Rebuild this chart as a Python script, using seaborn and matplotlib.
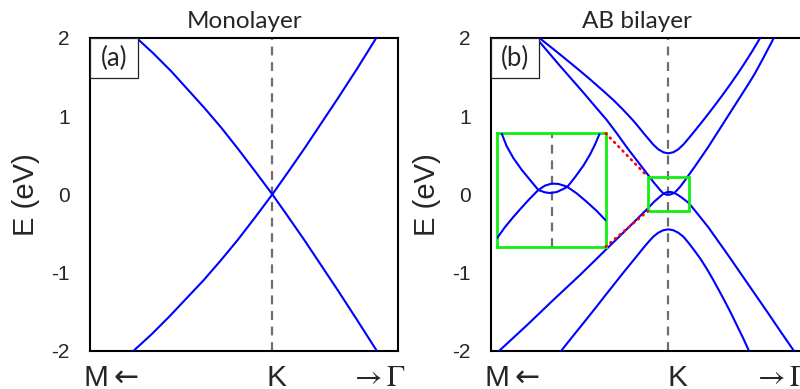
import matplotlib
matplotlib.use("Agg")
import matplotlib.pyplot as plt
import seaborn as sns
import pandas as pd
from matplotlib.patches import Rectangle, ConnectionPatch
from matplotlib.transforms import blended_transform_factory, ScaledTranslation

# ---------------- data (k: arbitrary units, K point at 0; E in eV) ----------------
# (a) Monolayer
mono_a_k = [-1.36, -1.19, -1.01, -0.84, -0.677, -0.51, -0.343, -0.17, 0.0, 0.16, 0.323, 0.49, 0.657, 0.85, 1.04]
mono_a_E = [2.0, 1.80, 1.57, 1.33, 1.10, 0.85, 0.58, 0.29, 0.0, -0.29, -0.59, -0.91, -1.23, -1.61, -1.99]
mono_b_k = [-1.39, -1.21, -1.03, -0.86, -0.69, -0.52, -0.345, -0.17, 0.0, 0.16, 0.323, 0.49, 0.657, 0.85, 1.04]
mono_b_E = [-2.0, -1.79, -1.56, -1.33, -1.10, -0.85, -0.58, -0.29, 0.0, 0.29, 0.59, 0.91, 1.23, 1.61, 2.0]

# (b) AB bilayer
bi1_k = [-1.073, -0.96, -0.85, -0.74, -0.63, -0.54, -0.45, -0.37, -0.30, -0.25, -0.20, -0.15, -0.10, -0.05, 0.0,
         0.05, 0.10, 0.15, 0.20, 0.26, 0.317, 0.38, 0.437, 0.50, 0.557, 0.62, 0.687, 0.75, 0.807]
bi1_E = [-2.0, -1.82, -1.645, -1.47, -1.29, -1.145, -1.0, -0.875, -0.765, -0.685, -0.61, -0.54, -0.49, -0.458, -0.447,
         -0.458, -0.49, -0.54, -0.615, -0.715, -0.815, -0.94, -1.065, -1.21, -1.345, -1.50, -1.675, -1.84, -2.0]

bi2_k = [-1.693, -1.413, -1.143, -0.883, -0.643, -0.423, -0.2051, -0.1445, -0.0814, -0.0498,
         -0.0246, 0.0006, 0.0259, 0.0599, 0.0953, 0.1331, 0.2051, 0.30, 0.40, 0.50, 0.60, 0.70, 0.80, 0.90, 1.00, 1.13, 1.257]
bi2_E = [-2.0, -1.67, -1.34, -1.03, -0.73, -0.455, -0.179, -0.098, -0.027, 0.006,
         0.023, 0.031, 0.030, 0.018, -0.007, -0.040, -0.111, -0.26, -0.42, -0.60, -0.78, -0.965, -1.15, -1.335, -1.52, -1.765, -2.0]

bi3_k = [-1.323, -1.203, -1.083, -0.963, -0.843, -0.73, -0.616, -0.51, -0.403, -0.30, -0.1887, -0.1445, -0.0814,
         -0.0498, -0.0246, -0.0057, 0.0196, 0.0448, 0.0599, 0.0890, 0.1205, 0.1647, 0.1811, 0.26, 0.397, 0.497,
         0.597, 0.697, 0.797, 0.867, 0.937, 1.057]
bi3_E = [2.0, 1.82, 1.64, 1.465, 1.29, 1.12, 0.95, 0.77, 0.58, 0.41, 0.225, 0.15, 0.055,
         0.012, -0.002, -0.006, -0.002, 0.010, 0.018, 0.056, 0.100, 0.175, 0.205, 0.345, 0.60, 0.80,
         1.0, 1.20, 1.40, 1.545, 1.71, 2.0]

bi4_k = [-1.293, -1.15, -1.043, -0.90, -0.793, -0.65, -0.55, -0.463, -0.40, -0.353, -0.30, -0.25, -0.20, -0.15, -0.10,
         -0.05, 0.0, 0.05, 0.10, 0.15, 0.20, 0.25, 0.317, 0.39, 0.467, 0.54, 0.617, 0.69, 0.767, 0.84, 0.92]
bi4_E = [2.0, 1.855, 1.745, 1.595, 1.48, 1.32, 1.205, 1.095, 1.01, 0.945, 0.865, 0.785, 0.71, 0.635, 0.575,
         0.537, 0.524, 0.537, 0.575, 0.635, 0.71, 0.787, 0.893, 1.011, 1.139, 1.264, 1.40, 1.534, 1.682, 1.829, 2.0]

# inset (zoom around K)
ins_c_k = [-0.1887, -0.1697, -0.1445, -0.1129, -0.0814, -0.0498, -0.0246, -0.0057, 0.0196, 0.0448,
           0.0599, 0.0890, 0.1205, 0.1457, 0.1647, 0.1811]
ins_c_E = [0.225, 0.1755, 0.1298, 0.0842, 0.0451, 0.0060, -0.0031, -0.0057, -0.0018, 0.0099,
           0.018, 0.0555, 0.0999, 0.1429, 0.1820, 0.2211]
ins_v_k = [-0.2051, -0.1760, -0.1445, -0.1129, -0.0814, -0.0498, -0.0246, 0.0006, 0.0259, 0.0511,
           0.0599, 0.0953, 0.1331, 0.1710, 0.2051]
ins_v_E = [-0.1791, -0.1374, -0.0983, -0.0618, -0.0266, 0.0060, 0.0229, 0.0308, 0.0295, 0.0216,
           0.018, -0.0070, -0.0396, -0.0748, -0.1113]

ins_xlim = (-0.205, 0.205)
ins_ylim = (-0.213, 0.225)

mono_xlim = (-1.826, 1.257)
bi_xlim = (-1.776, 1.334)
ylim = (-2, 2)
yticks = [2, 1, 0, -1, -2]
yticklabels = ["2", "1", "0", "-1", "-2"]
kpath_labels = [r"M$\leftarrow$", "K", r"$\rightarrow\Gamma$"]
titles = ["Monolayer", "AB bilayer"]
panel_tags = ["(a)", "(b)"]


def frame(ks, Es):
    rows = []
    for i, (k, E) in enumerate(zip(ks, Es)):
        for kk, ee in zip(k, E):
            rows.append({"k": kk, "E": ee, "band": i})
    return pd.DataFrame(rows)


df_mono = frame([mono_a_k, mono_b_k], [mono_a_E, mono_b_E])
df_bi = frame([bi1_k, bi2_k, bi3_k, bi4_k], [bi1_E, bi2_E, bi3_E, bi4_E])
df_ins = frame([ins_c_k, ins_v_k], [ins_c_E, ins_v_E])

sns.set_style("white")
plt.rcParams["font.family"] = ["Liberation Sans", "DejaVu Sans"]

BLUE = "#0000ff"
GRAY = "#6e6e6e"
GREEN = "#11ee11"

fig = plt.figure(figsize=(8, 3.89), dpi=100)
axL = fig.add_axes([89.7 / 800, 38 / 389, 308.4 / 800, 313.3 / 389])
axR = fig.add_axes([490.7 / 800, 38 / 389, 311 / 800, 313.3 / 389])

panels = [(axL, df_mono, mono_xlim, 0.503, 4, 17.5), (axR, df_bi, bi_xlim, 0.469, 9, 17.5)]
for idx, (ax, df, xl, tx, kdx, tfs) in enumerate(panels):
    ax.axvline(0, color=GRAY, lw=1.6, ls=(0, (4, 3)), zorder=1)
    sns.lineplot(data=df, x="k", y="E", units="band", estimator=None, sort=False,
                 color=BLUE, linewidth=1.5, ax=ax, legend=False, zorder=3)
    ax.set_xlim(*xl)
    ax.set_ylim(*ylim)
    ax.set_yticks(yticks)
    ax.set_yticklabels(yticklabels)
    ax.set_xticks([])
    ax.set_xlabel("")
    ax.set_ylabel("E (eV)", fontsize=21)
    ax.yaxis.set_label_coords(-49.5 / (ax.get_position().width * 800), 0.5)
    ax.tick_params(axis="y", direction="out", length=7.5, width=1.5, pad=7, labelsize=15, color="black")
    for sp in ax.spines.values():
        sp.set_visible(True)
        sp.set_color("black")
        sp.set_linewidth(1.5)
    ax.set_title(titles[idx], fontsize=tfs, family=["Lato", "DejaVu Sans"], pad=6.8, x=tx)

    # panel tag box
    wpx = ax.get_position().width * 800
    hpx = ax.get_position().height * 389
    bw, bh = 48.5 / wpx, 40 / hpx
    ax.add_patch(Rectangle((0, 1 - bh), bw, bh, transform=ax.transAxes, facecolor="white",
                           edgecolor="#222222", lw=0.9, zorder=6))
    ax.text(bw / 2, 1 - bh / 2 - 0.004, panel_tags[idx], transform=ax.transAxes, ha="center", va="center",
            fontsize=18.5, family=["Lato", "DejaVu Sans"], zorder=7)

    # k-path labels
    base = blended_transform_factory(ax.transData, ax.transAxes)
    dy = -35.0 / 100
    ax.text(xl[0], 0, kpath_labels[0], fontsize=21.5, ha="left", va="baseline",
            math_fontfamily="dejavusans",
            transform=base + ScaledTranslation(-6.5 / 100, dy, fig.dpi_scale_trans))
    ax.text(0, 0, kpath_labels[1], fontsize=21.5, ha="center", va="baseline",
            transform=base + ScaledTranslation(kdx / 100, dy, fig.dpi_scale_trans))
    ax.text(xl[1], 0, kpath_labels[2], fontsize=21.5, ha="right", va="baseline",
            math_fontfamily="stix",
            transform=base + ScaledTranslation(7 / 100, dy, fig.dpi_scale_trans))

# inset in panel (b)
ins = axR.inset_axes([6.6 / 311, 104.3 / 313.3, 108.4 / 311, 113.4 / 313.3])
ins.set_facecolor("white")
ins.axvline(0, color=GRAY, lw=1.6, ls=(0, (4, 3)), zorder=1)
sns.lineplot(data=df_ins, x="k", y="E", units="band", estimator=None, sort=False,
             color=BLUE, linewidth=1.5, ax=ins, legend=False, zorder=3)
ins.set_xlim(*ins_xlim)
ins.set_ylim(*ins_ylim)
ins.set_xticks([])
ins.set_yticks([])
ins.set_xlabel("")
ins.set_ylabel("")
for sp in ins.spines.values():
    sp.set_visible(True)
    sp.set_color(GREEN)
    sp.set_linewidth(2)

# zoom rectangle in main panel
axR.add_patch(Rectangle((ins_xlim[0], ins_ylim[0]), ins_xlim[1] - ins_xlim[0], ins_ylim[1] - ins_ylim[0],
                        fill=False, edgecolor=GREEN, lw=2, zorder=5))

for ya, yb in [(1, ins_ylim[1]), (0, ins_ylim[0])]:
    cp = ConnectionPatch(xyA=(1, ya), coordsA=ins.transAxes, xyB=(ins_xlim[0], yb), coordsB=axR.transData,
                         color="red", lw=1.9, ls=(0, (0.4, 1.9)), capstyle="round", zorder=6)
    fig.add_artist(cp)

fig.savefig("out.png", dpi=100)
